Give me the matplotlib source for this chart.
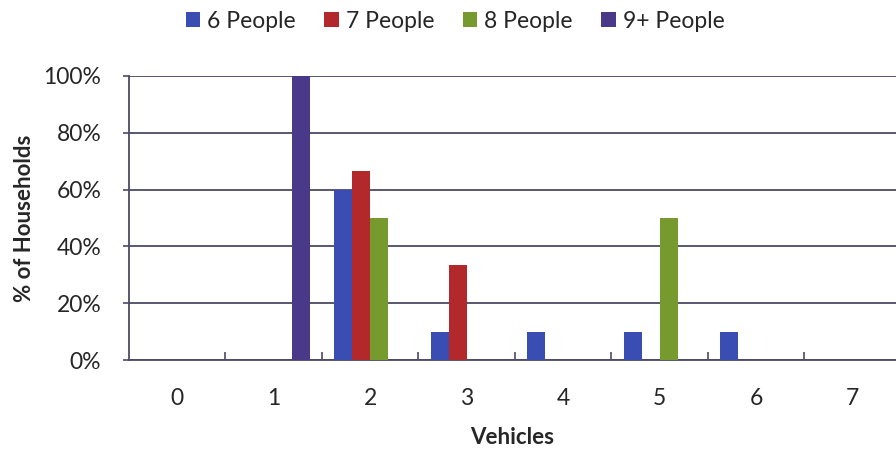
import matplotlib.pyplot as plt
import numpy as np

# vehicles per household, by household size
vehicles = [0, 1, 2, 3, 4, 5, 6, 7]
series = ['6 People', '7 People', '8 People', '9+ People']
six_people = [0, 0, 60, 10, 10, 10, 10, 0]
seven_people = [0, 0, 66.7, 33.3, 0, 0, 0, 0]
eight_people = [0, 0, 50, 0, 0, 50, 0, 0]
nine_people = [0, 100, 0, 0, 0, 0, 0, 0]
colors = ['#3a4db3', '#b3282b', '#769a2e', '#4a3888']

plt.rcParams['font.family'] = ['Lato', 'DejaVu Sans']
txt = '#262626'
gridc = '#4c4a66'

fig = plt.figure(figsize=(8.96, 4.49), dpi=100)
ax = fig.add_axes([0.144, 0.198, 0.856, 0.633])

x = np.arange(len(vehicles))
w = 0.187
for i, (name, vals) in enumerate(zip(series, [six_people, seven_people, eight_people, nine_people])):
    ax.bar(x + (i - 1.5) * w, vals, w, color=colors[i], label=name, zorder=3)

ax.set_xlim(-0.5, 7.45)
ax.set_ylim(0, 100)
ax.set_yticks([0, 20, 40, 60, 80, 100])
ax.set_yticklabels(['0%', '20%', '40%', '60%', '80%', '100%'])
ax.yaxis.grid(True, color=gridc, linewidth=1.3, zorder=0)
ax.set_xticks(x)
ax.set_xticklabels([str(v) for v in vehicles])
ax.set_xticks(np.arange(0.5, 7, 1), minor=True)
ax.tick_params(axis='x', which='major', length=0, pad=20, labelsize=16.5, labelcolor=txt)
ax.tick_params(axis='x', which='minor', direction='in', length=6, color=gridc, width=1.2)
ax.tick_params(axis='y', length=4, color=gridc, width=1.2, labelsize=16.5, labelcolor=txt, pad=16)

for s in ['top', 'right']:
    ax.spines[s].set_visible(False)
ax.spines['left'].set_color(gridc)
ax.spines['bottom'].set_color(gridc)
ax.spines['left'].set_linewidth(1.3)
ax.spines['bottom'].set_linewidth(1.3)

ax.set_xlabel('Vehicles', fontsize=16, fontweight='bold', color=txt, labelpad=13)
ax.set_ylabel('% of Households', fontsize=16, fontweight='bold', color=txt, labelpad=6)

fig.legend(loc='center', bbox_to_anchor=(0.508, 0.953), ncol=4, frameon=False,
           fontsize=16.5, handlelength=0.63, handleheight=0.63, handletextpad=0.3,
           columnspacing=1.25, labelcolor=txt)

fig.savefig('out.png', dpi=100)
